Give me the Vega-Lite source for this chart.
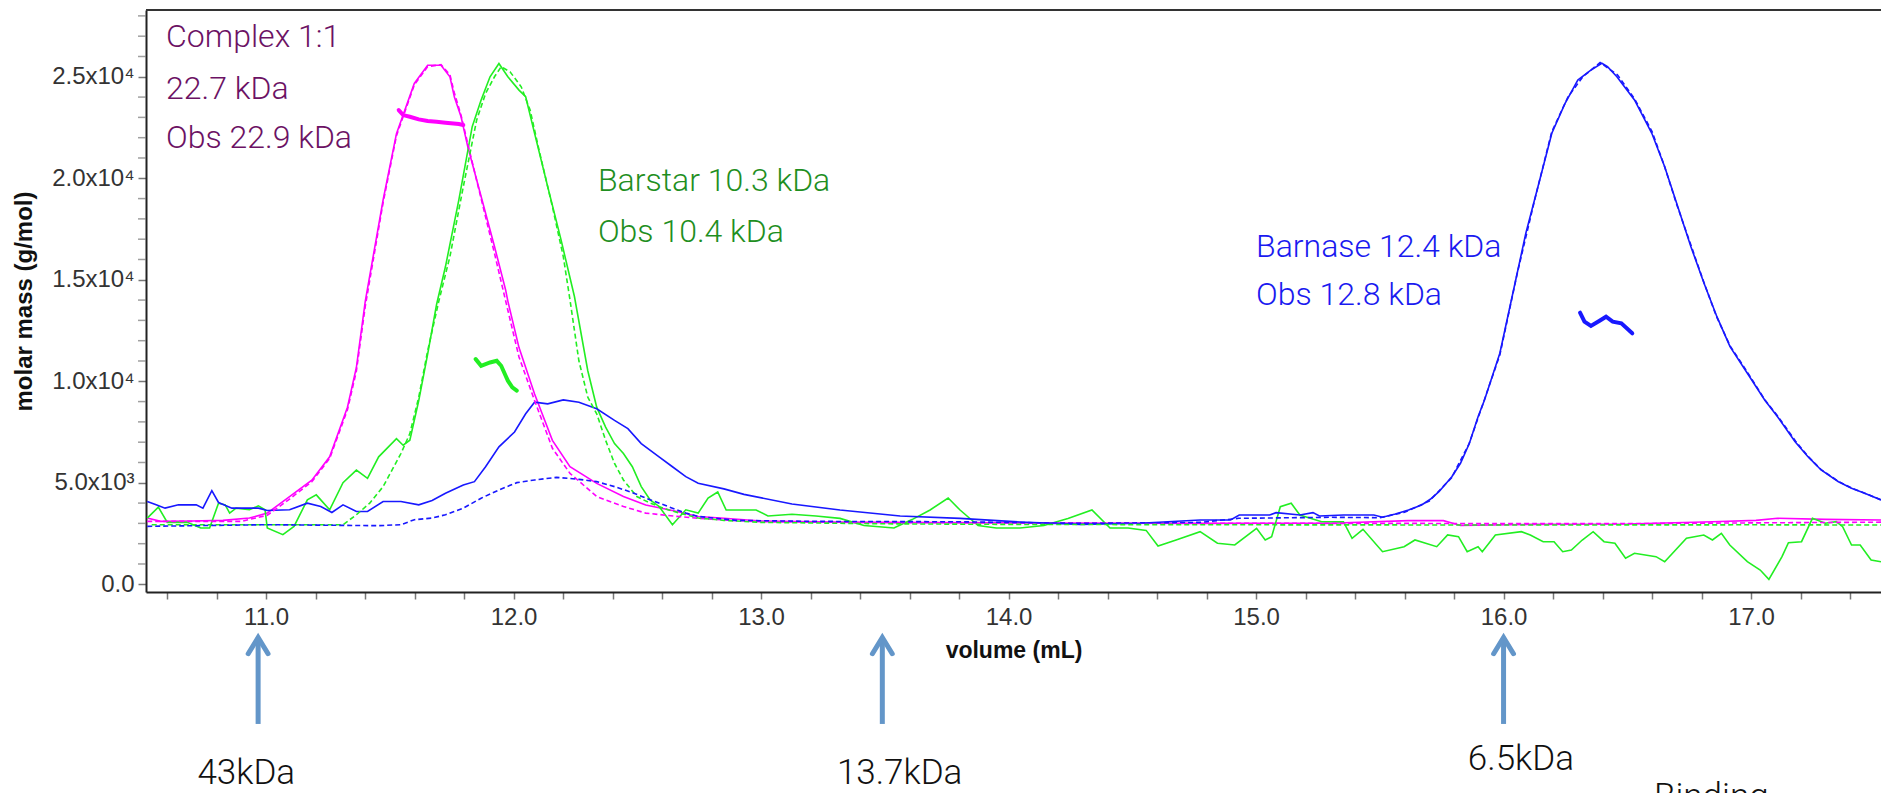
{
  "$schema": "https://vega.github.io/schema/vega-lite/v6.json",
  "width": 1735,
  "height": 582,
  "autosize": {"type": "none"},
  "padding": {"left": 146, "top": 10, "right": 0, "bottom": 201},
  "background": "white",
  "config": {"view": {"stroke": null}},
  "datasets": {
    "curves": [
      {"s":"Complex","k":"sig","v":10.52,"m":3262},{"s":"Complex","k":"sig","v":10.574,"m":3100},{"s":"Complex","k":"sig","v":10.7,"m":3120},{"s":"Complex","k":"sig","v":10.826,"m":3148},{"s":"Complex","k":"sig","v":10.933,"m":3262},{"s":"Complex","k":"sig","v":11.005,"m":3507},{"s":"Complex","k":"sig","v":11.095,"m":4320},{"s":"Complex","k":"sig","v":11.185,"m":5130},{"s":"Complex","k":"sig","v":11.257,"m":6280},{"s":"Complex","k":"sig","v":11.329,"m":8720},{"s":"Complex","k":"sig","v":11.365,"m":10680},{"s":"Complex","k":"sig","v":11.401,"m":13950},{"s":"Complex","k":"sig","v":11.473,"m":18930},{"s":"Complex","k":"sig","v":11.527,"m":22200},{"s":"Complex","k":"sig","v":11.599,"m":24670},{"s":"Complex","k":"sig","v":11.653,"m":25570},{"s":"Complex","k":"sig","v":11.707,"m":25570},{"s":"Complex","k":"sig","v":11.743,"m":25000},{"s":"Complex","k":"sig","v":11.761,"m":24000},{"s":"Complex","k":"sig","v":11.788,"m":23030},{"s":"Complex","k":"sig","v":11.815,"m":21560},{"s":"Complex","k":"sig","v":11.869,"m":19100},{"s":"Complex","k":"sig","v":11.923,"m":16640},{"s":"Complex","k":"sig","v":11.968,"m":14500},{"s":"Complex","k":"sig","v":11.977,"m":13950},{"s":"Complex","k":"sig","v":12.022,"m":11660},{"s":"Complex","k":"sig","v":12.085,"m":9370},{"s":"Complex","k":"sig","v":12.157,"m":7090},{"s":"Complex","k":"sig","v":12.228,"m":5790},{"s":"Complex","k":"sig","v":12.336,"m":4970},{"s":"Complex","k":"sig","v":12.444,"m":4320},{"s":"Complex","k":"sig","v":12.534,"m":3910},{"s":"Complex","k":"sig","v":12.66,"m":3590},{"s":"Complex","k":"sig","v":12.746,"m":3340},{"s":"Complex","k":"sig","v":12.85,"m":3250},{"s":"Complex","k":"sig","v":13.0,"m":3120},{"s":"Complex","k":"sig","v":13.3,"m":3060},{"s":"Complex","k":"sig","v":13.7,"m":3040},{"s":"Complex","k":"sig","v":14.2,"m":3020},{"s":"Complex","k":"sig","v":14.774,"m":3000},{"s":"Complex","k":"sig","v":15.3,"m":3010},{"s":"Complex","k":"sig","v":15.616,"m":3135},{"s":"Complex","k":"sig","v":15.757,"m":3135},{"s":"Complex","k":"sig","v":15.826,"m":2900},{"s":"Complex","k":"sig","v":16.108,"m":2950},{"s":"Complex","k":"sig","v":16.5,"m":2970},{"s":"Complex","k":"sig","v":16.844,"m":3084},{"s":"Complex","k":"sig","v":17.02,"m":3150},{"s":"Complex","k":"sig","v":17.107,"m":3251},{"s":"Complex","k":"sig","v":17.3,"m":3200},{"s":"Complex","k":"sig","v":17.525,"m":3167},
      {"s":"Complex","k":"fit","v":10.52,"m":3100},{"s":"Complex","k":"fit","v":10.9,"m":3100},{"s":"Complex","k":"fit","v":11.005,"m":3400},{"s":"Complex","k":"fit","v":11.095,"m":4200},{"s":"Complex","k":"fit","v":11.185,"m":5050},{"s":"Complex","k":"fit","v":11.257,"m":6200},{"s":"Complex","k":"fit","v":11.329,"m":8600},{"s":"Complex","k":"fit","v":11.365,"m":10500},{"s":"Complex","k":"fit","v":11.401,"m":13700},{"s":"Complex","k":"fit","v":11.473,"m":18800},{"s":"Complex","k":"fit","v":11.527,"m":22100},{"s":"Complex","k":"fit","v":11.599,"m":24600},{"s":"Complex","k":"fit","v":11.653,"m":25500},{"s":"Complex","k":"fit","v":11.707,"m":25600},{"s":"Complex","k":"fit","v":11.743,"m":25100},{"s":"Complex","k":"fit","v":11.761,"m":24200},{"s":"Complex","k":"fit","v":11.788,"m":23100},{"s":"Complex","k":"fit","v":11.815,"m":21700},{"s":"Complex","k":"fit","v":11.869,"m":19000},{"s":"Complex","k":"fit","v":11.923,"m":16300},{"s":"Complex","k":"fit","v":11.977,"m":13500},{"s":"Complex","k":"fit","v":12.022,"m":11200},{"s":"Complex","k":"fit","v":12.085,"m":9052},{"s":"Complex","k":"fit","v":12.157,"m":6700},{"s":"Complex","k":"fit","v":12.228,"m":5464},{"s":"Complex","k":"fit","v":12.336,"m":4322},{"s":"Complex","k":"fit","v":12.444,"m":3833},{"s":"Complex","k":"fit","v":12.534,"m":3507},{"s":"Complex","k":"fit","v":12.66,"m":3344},{"s":"Complex","k":"fit","v":12.8,"m":3200},{"s":"Complex","k":"fit","v":13.0,"m":3080},{"s":"Complex","k":"fit","v":13.5,"m":3040},{"s":"Complex","k":"fit","v":14.0,"m":3020},{"s":"Complex","k":"fit","v":15.5,"m":3000},{"s":"Complex","k":"fit","v":16.5,"m":2990},{"s":"Complex","k":"fit","v":17.525,"m":3060},
      {"s":"Complex","k":"mw","v":11.536,"m":23360},{"s":"Complex","k":"mw","v":11.554,"m":23114},{"s":"Complex","k":"mw","v":11.581,"m":23032},{"s":"Complex","k":"mw","v":11.617,"m":22900},{"s":"Complex","k":"mw","v":11.653,"m":22820},{"s":"Complex","k":"mw","v":11.689,"m":22786},{"s":"Complex","k":"mw","v":11.725,"m":22740},{"s":"Complex","k":"mw","v":11.779,"m":22671},{"s":"Complex","k":"mw","v":11.797,"m":22622},
      {"s":"Barstar","k":"sig","v":10.52,"m":3262},{"s":"Barstar","k":"sig","v":10.565,"m":3800},{"s":"Barstar","k":"sig","v":10.601,"m":3050},{"s":"Barstar","k":"sig","v":10.682,"m":3050},{"s":"Barstar","k":"sig","v":10.736,"m":2773},{"s":"Barstar","k":"sig","v":10.772,"m":2773},{"s":"Barstar","k":"sig","v":10.808,"m":3996},{"s":"Barstar","k":"sig","v":10.835,"m":3914},{"s":"Barstar","k":"sig","v":10.853,"m":3507},{"s":"Barstar","k":"sig","v":10.879,"m":3751},{"s":"Barstar","k":"sig","v":10.933,"m":3670},{"s":"Barstar","k":"sig","v":10.969,"m":3865},{"s":"Barstar","k":"sig","v":10.996,"m":3670},{"s":"Barstar","k":"sig","v":11.005,"m":2773},{"s":"Barstar","k":"sig","v":11.068,"m":2447},{"s":"Barstar","k":"sig","v":11.113,"m":2854},{"s":"Barstar","k":"sig","v":11.167,"m":4159},{"s":"Barstar","k":"sig","v":11.203,"m":4404},{"s":"Barstar","k":"sig","v":11.257,"m":3670},{"s":"Barstar","k":"sig","v":11.311,"m":5007},{"s":"Barstar","k":"sig","v":11.365,"m":5627},{"s":"Barstar","k":"sig","v":11.41,"m":5219},{"s":"Barstar","k":"sig","v":11.455,"m":6279},{"s":"Barstar","k":"sig","v":11.527,"m":7176},{"s":"Barstar","k":"sig","v":11.554,"m":6850},{"s":"Barstar","k":"sig","v":11.581,"m":7095},{"s":"Barstar","k":"sig","v":11.617,"m":9052},{"s":"Barstar","k":"sig","v":11.653,"m":11335},{"s":"Barstar","k":"sig","v":11.689,"m":13782},{"s":"Barstar","k":"sig","v":11.725,"m":15652},{"s":"Barstar","k":"sig","v":11.779,"m":18932},{"s":"Barstar","k":"sig","v":11.833,"m":22540},{"s":"Barstar","k":"sig","v":11.869,"m":23852},{"s":"Barstar","k":"sig","v":11.905,"m":25000},{"s":"Barstar","k":"sig","v":11.941,"m":25656},{"s":"Barstar","k":"sig","v":11.977,"m":25000},{"s":"Barstar","k":"sig","v":12.022,"m":24344},{"s":"Barstar","k":"sig","v":12.049,"m":24016},{"s":"Barstar","k":"sig","v":12.085,"m":22212},{"s":"Barstar","k":"sig","v":12.138,"m":19588},{"s":"Barstar","k":"sig","v":12.192,"m":16964},{"s":"Barstar","k":"sig","v":12.246,"m":14176},{"s":"Barstar","k":"sig","v":12.3,"m":10520},{"s":"Barstar","k":"sig","v":12.336,"m":8726},{"s":"Barstar","k":"sig","v":12.372,"m":7747},{"s":"Barstar","k":"sig","v":12.408,"m":6932},{"s":"Barstar","k":"sig","v":12.444,"m":6442},{"s":"Barstar","k":"sig","v":12.48,"m":5790},{"s":"Barstar","k":"sig","v":12.516,"m":4811},{"s":"Barstar","k":"sig","v":12.552,"m":4159},{"s":"Barstar","k":"sig","v":12.588,"m":3833},{"s":"Barstar","k":"sig","v":12.642,"m":2936},{"s":"Barstar","k":"sig","v":12.696,"m":3670},{"s":"Barstar","k":"sig","v":12.746,"m":3507},{"s":"Barstar","k":"sig","v":12.786,"m":4251},{"s":"Barstar","k":"sig","v":12.825,"m":4547},{"s":"Barstar","k":"sig","v":12.859,"m":3660},{"s":"Barstar","k":"sig","v":12.907,"m":3660},{"s":"Barstar","k":"sig","v":12.98,"m":3660},{"s":"Barstar","k":"sig","v":13.028,"m":3365},{"s":"Barstar","k":"sig","v":13.125,"m":3450},{"s":"Barstar","k":"sig","v":13.222,"m":3365},{"s":"Barstar","k":"sig","v":13.319,"m":3246},{"s":"Barstar","k":"sig","v":13.416,"m":2892},{"s":"Barstar","k":"sig","v":13.537,"m":2773},{"s":"Barstar","k":"sig","v":13.61,"m":3187},{"s":"Barstar","k":"sig","v":13.683,"m":3660},{"s":"Barstar","k":"sig","v":13.756,"m":4251},{"s":"Barstar","k":"sig","v":13.804,"m":3660},{"s":"Barstar","k":"sig","v":13.877,"m":2892},{"s":"Barstar","k":"sig","v":13.95,"m":2773},{"s":"Barstar","k":"sig","v":14.046,"m":2773},{"s":"Barstar","k":"sig","v":14.143,"m":2892},{"s":"Barstar","k":"sig","v":14.24,"m":3246},{"s":"Barstar","k":"sig","v":14.337,"m":3660},{"s":"Barstar","k":"sig","v":14.41,"m":2773},{"s":"Barstar","k":"sig","v":14.483,"m":2773},{"s":"Barstar","k":"sig","v":14.556,"m":2655},{"s":"Barstar","k":"sig","v":14.604,"m":1887},{"s":"Barstar","k":"sig","v":14.677,"m":2182},{"s":"Barstar","k":"sig","v":14.774,"m":2591},{"s":"Barstar","k":"sig","v":14.844,"m":2020},{"s":"Barstar","k":"sig","v":14.914,"m":1936},{"s":"Barstar","k":"sig","v":15.002,"m":2757},{"s":"Barstar","k":"sig","v":15.037,"m":2182},{"s":"Barstar","k":"sig","v":15.063,"m":2345},{"s":"Barstar","k":"sig","v":15.098,"m":3823},{"s":"Barstar","k":"sig","v":15.142,"m":3990},{"s":"Barstar","k":"sig","v":15.177,"m":3414},{"s":"Barstar","k":"sig","v":15.265,"m":3084},{"s":"Barstar","k":"sig","v":15.353,"m":3084},{"s":"Barstar","k":"sig","v":15.388,"m":2266},{"s":"Barstar","k":"sig","v":15.432,"m":2709},{"s":"Barstar","k":"sig","v":15.511,"m":1606},{"s":"Barstar","k":"sig","v":15.598,"m":1852},{"s":"Barstar","k":"sig","v":15.642,"m":2182},{"s":"Barstar","k":"sig","v":15.73,"m":1852},{"s":"Barstar","k":"sig","v":15.774,"m":2429},{"s":"Barstar","k":"sig","v":15.818,"m":2345},{"s":"Barstar","k":"sig","v":15.853,"m":1606},{"s":"Barstar","k":"sig","v":15.897,"m":1852},{"s":"Barstar","k":"sig","v":15.914,"m":1606},{"s":"Barstar","k":"sig","v":15.967,"m":2429},{"s":"Barstar","k":"sig","v":16.072,"m":2591},{"s":"Barstar","k":"sig","v":16.108,"m":2429},{"s":"Barstar","k":"sig","v":16.16,"m":2099},{"s":"Barstar","k":"sig","v":16.204,"m":2099},{"s":"Barstar","k":"sig","v":16.239,"m":1606},{"s":"Barstar","k":"sig","v":16.274,"m":1690},{"s":"Barstar","k":"sig","v":16.318,"m":2182},{"s":"Barstar","k":"sig","v":16.362,"m":2591},{"s":"Barstar","k":"sig","v":16.406,"m":2099},{"s":"Barstar","k":"sig","v":16.45,"m":2020},{"s":"Barstar","k":"sig","v":16.493,"m":1281},{"s":"Barstar","k":"sig","v":16.529,"m":1527},{"s":"Barstar","k":"sig","v":16.616,"m":1360},{"s":"Barstar","k":"sig","v":16.651,"m":1113},{"s":"Barstar","k":"sig","v":16.739,"m":2266},{"s":"Barstar","k":"sig","v":16.809,"m":2429},{"s":"Barstar","k":"sig","v":16.844,"m":2182},{"s":"Barstar","k":"sig","v":16.88,"m":2512},{"s":"Barstar","k":"sig","v":16.914,"m":1936},{"s":"Barstar","k":"sig","v":16.985,"m":1113},{"s":"Barstar","k":"sig","v":17.037,"m":704},{"s":"Barstar","k":"sig","v":17.072,"m":246},{"s":"Barstar","k":"sig","v":17.125,"m":1360},{"s":"Barstar","k":"sig","v":17.151,"m":2049},{"s":"Barstar","k":"sig","v":17.204,"m":2099},{"s":"Barstar","k":"sig","v":17.248,"m":3251},{"s":"Barstar","k":"sig","v":17.3,"m":3005},{"s":"Barstar","k":"sig","v":17.344,"m":3084},{"s":"Barstar","k":"sig","v":17.37,"m":2837},{"s":"Barstar","k":"sig","v":17.406,"m":1936},{"s":"Barstar","k":"sig","v":17.441,"m":1936},{"s":"Barstar","k":"sig","v":17.485,"m":1197},{"s":"Barstar","k":"sig","v":17.525,"m":1113},
      {"s":"Barstar","k":"fit","v":10.538,"m":2936},{"s":"Barstar","k":"fit","v":11.311,"m":2936},{"s":"Barstar","k":"fit","v":11.365,"m":3425},{"s":"Barstar","k":"fit","v":11.419,"m":3996},{"s":"Barstar","k":"fit","v":11.473,"m":4811},{"s":"Barstar","k":"fit","v":11.545,"m":6442},{"s":"Barstar","k":"fit","v":11.581,"m":7421},{"s":"Barstar","k":"fit","v":11.617,"m":9215},{"s":"Barstar","k":"fit","v":11.653,"m":11499},{"s":"Barstar","k":"fit","v":11.698,"m":13945},{"s":"Barstar","k":"fit","v":11.743,"m":16144},{"s":"Barstar","k":"fit","v":11.797,"m":19588},{"s":"Barstar","k":"fit","v":11.851,"m":22868},{"s":"Barstar","k":"fit","v":11.887,"m":24180},{"s":"Barstar","k":"fit","v":11.923,"m":25000},{"s":"Barstar","k":"fit","v":11.95,"m":25492},{"s":"Barstar","k":"fit","v":11.986,"m":25246},{"s":"Barstar","k":"fit","v":12.031,"m":24508},{"s":"Barstar","k":"fit","v":12.067,"m":23360},{"s":"Barstar","k":"fit","v":12.103,"m":21392},{"s":"Barstar","k":"fit","v":12.157,"m":18604},{"s":"Barstar","k":"fit","v":12.201,"m":16144},{"s":"Barstar","k":"fit","v":12.228,"m":14012},{"s":"Barstar","k":"fit","v":12.264,"m":11009},{"s":"Barstar","k":"fit","v":12.3,"m":9215},{"s":"Barstar","k":"fit","v":12.336,"m":8400},{"s":"Barstar","k":"fit","v":12.372,"m":7095},{"s":"Barstar","k":"fit","v":12.408,"m":5953},{"s":"Barstar","k":"fit","v":12.444,"m":5138},{"s":"Barstar","k":"fit","v":12.498,"m":4322},{"s":"Barstar","k":"fit","v":12.552,"m":3996},{"s":"Barstar","k":"fit","v":12.624,"m":3670},{"s":"Barstar","k":"fit","v":12.696,"m":3425},{"s":"Barstar","k":"fit","v":12.746,"m":3262},{"s":"Barstar","k":"fit","v":12.85,"m":3150},{"s":"Barstar","k":"fit","v":13.0,"m":3050},{"s":"Barstar","k":"fit","v":13.5,"m":2980},{"s":"Barstar","k":"fit","v":14.0,"m":2950},{"s":"Barstar","k":"fit","v":15.0,"m":2930},{"s":"Barstar","k":"fit","v":16.0,"m":2920},{"s":"Barstar","k":"fit","v":17.0,"m":2930},{"s":"Barstar","k":"fit","v":17.525,"m":2920},
      {"s":"Barstar","k":"mw","v":11.847,"m":11091},{"s":"Barstar","k":"mw","v":11.869,"m":10765},{"s":"Barstar","k":"mw","v":11.905,"m":10928},{"s":"Barstar","k":"mw","v":11.932,"m":11009},{"s":"Barstar","k":"mw","v":11.95,"m":10765},{"s":"Barstar","k":"mw","v":11.968,"m":10275},{"s":"Barstar","k":"mw","v":11.977,"m":10031},{"s":"Barstar","k":"mw","v":11.995,"m":9705},{"s":"Barstar","k":"mw","v":12.013,"m":9541},
      {"s":"Barnase","k":"sig","v":10.52,"m":4078},{"s":"Barnase","k":"sig","v":10.556,"m":3914},{"s":"Barnase","k":"sig","v":10.592,"m":3751},{"s":"Barnase","k":"sig","v":10.646,"m":3914},{"s":"Barnase","k":"sig","v":10.718,"m":3914},{"s":"Barnase","k":"sig","v":10.745,"m":3751},{"s":"Barnase","k":"sig","v":10.781,"m":4616},{"s":"Barnase","k":"sig","v":10.808,"m":4029},{"s":"Barnase","k":"sig","v":10.862,"m":3751},{"s":"Barnase","k":"sig","v":10.969,"m":3751},{"s":"Barnase","k":"sig","v":11.005,"m":3637},{"s":"Barnase","k":"sig","v":11.095,"m":3670},{"s":"Barnase","k":"sig","v":11.167,"m":3996},{"s":"Barnase","k":"sig","v":11.221,"m":3833},{"s":"Barnase","k":"sig","v":11.266,"m":3539},{"s":"Barnase","k":"sig","v":11.311,"m":3914},{"s":"Barnase","k":"sig","v":11.365,"m":3588},{"s":"Barnase","k":"sig","v":11.41,"m":3588},{"s":"Barnase","k":"sig","v":11.473,"m":4078},{"s":"Barnase","k":"sig","v":11.545,"m":4078},{"s":"Barnase","k":"sig","v":11.617,"m":3914},{"s":"Barnase","k":"sig","v":11.671,"m":4126},{"s":"Barnase","k":"sig","v":11.725,"m":4485},{"s":"Barnase","k":"sig","v":11.797,"m":4893},{"s":"Barnase","k":"sig","v":11.842,"m":5056},{"s":"Barnase","k":"sig","v":11.887,"m":5790},{"s":"Barnase","k":"sig","v":11.941,"m":6769},{"s":"Barnase","k":"sig","v":12.004,"m":7503},{"s":"Barnase","k":"sig","v":12.049,"m":8400},{"s":"Barnase","k":"sig","v":12.085,"m":8971},{"s":"Barnase","k":"sig","v":12.138,"m":8889},{"s":"Barnase","k":"sig","v":12.201,"m":9085},{"s":"Barnase","k":"sig","v":12.264,"m":8971},{"s":"Barnase","k":"sig","v":12.336,"m":8644},{"s":"Barnase","k":"sig","v":12.408,"m":8073},{"s":"Barnase","k":"sig","v":12.462,"m":7666},{"s":"Barnase","k":"sig","v":12.516,"m":6932},{"s":"Barnase","k":"sig","v":12.588,"m":6279},{"s":"Barnase","k":"sig","v":12.642,"m":5790},{"s":"Barnase","k":"sig","v":12.696,"m":5301},{"s":"Barnase","k":"sig","v":12.746,"m":4975},{"s":"Barnase","k":"sig","v":12.85,"m":4700},{"s":"Barnase","k":"sig","v":12.931,"m":4429},{"s":"Barnase","k":"sig","v":13.125,"m":3956},{"s":"Barnase","k":"sig","v":13.319,"m":3660},{"s":"Barnase","k":"sig","v":13.562,"m":3365},{"s":"Barnase","k":"sig","v":13.804,"m":3246},{"s":"Barnase","k":"sig","v":14.046,"m":3069},{"s":"Barnase","k":"sig","v":14.289,"m":2951},{"s":"Barnase","k":"sig","v":14.531,"m":3010},{"s":"Barnase","k":"sig","v":14.774,"m":3167},{"s":"Barnase","k":"sig","v":14.897,"m":3167},{"s":"Barnase","k":"sig","v":14.932,"m":3414},{"s":"Barnase","k":"sig","v":15.055,"m":3414},{"s":"Barnase","k":"sig","v":15.081,"m":3529},{"s":"Barnase","k":"sig","v":15.177,"m":3414},{"s":"Barnase","k":"sig","v":15.23,"m":3529},{"s":"Barnase","k":"sig","v":15.256,"m":3365},{"s":"Barnase","k":"sig","v":15.353,"m":3414},{"s":"Barnase","k":"sig","v":15.476,"m":3414},{"s":"Barnase","k":"sig","v":15.511,"m":3300},{"s":"Barnase","k":"sig","v":15.563,"m":3463},{"s":"Barnase","k":"sig","v":15.616,"m":3660},{"s":"Barnase","k":"sig","v":15.669,"m":3906},{"s":"Barnase","k":"sig","v":15.704,"m":4187},{"s":"Barnase","k":"sig","v":15.739,"m":4562},{"s":"Barnase","k":"sig","v":15.791,"m":5300},{"s":"Barnase","k":"sig","v":15.826,"m":5960},{"s":"Barnase","k":"sig","v":15.862,"m":6946},{"s":"Barnase","k":"sig","v":15.897,"m":8256},{"s":"Barnase","k":"sig","v":15.923,"m":9079},{"s":"Barnase","k":"sig","v":15.985,"m":11379},{"s":"Barnase","k":"sig","v":16.02,"m":13350},{"s":"Barnase","k":"sig","v":16.055,"m":15320},{"s":"Barnase","k":"sig","v":16.09,"m":17291},{"s":"Barnase","k":"sig","v":16.125,"m":18931},{"s":"Barnase","k":"sig","v":16.16,"m":20572},{"s":"Barnase","k":"sig","v":16.195,"m":22217},{"s":"Barnase","k":"sig","v":16.248,"m":23680},{"s":"Barnase","k":"sig","v":16.3,"m":24842},{"s":"Barnase","k":"sig","v":16.35,"m":25300},{"s":"Barnase","k":"sig","v":16.397,"m":25665},{"s":"Barnase","k":"sig","v":16.42,"m":25500},{"s":"Barnase","k":"sig","v":16.458,"m":25005},{"s":"Barnase","k":"sig","v":16.529,"m":23857},{"s":"Barnase","k":"sig","v":16.599,"m":22217},{"s":"Barnase","k":"sig","v":16.651,"m":20572},{"s":"Barnase","k":"sig","v":16.704,"m":18601},{"s":"Barnase","k":"sig","v":16.757,"m":16630},{"s":"Barnase","k":"sig","v":16.81,"m":14828},{"s":"Barnase","k":"sig","v":16.862,"m":13182},{"s":"Barnase","k":"sig","v":16.915,"m":11704},{"s":"Barnase","k":"sig","v":16.985,"m":10394},{"s":"Barnase","k":"sig","v":17.055,"m":9079},{"s":"Barnase","k":"sig","v":17.107,"m":8256},{"s":"Barnase","k":"sig","v":17.178,"m":7025},{"s":"Barnase","k":"sig","v":17.23,"m":6286},{"s":"Barnase","k":"sig","v":17.283,"m":5631},{"s":"Barnase","k":"sig","v":17.353,"m":5054},{"s":"Barnase","k":"sig","v":17.406,"m":4729},{"s":"Barnase","k":"sig","v":17.459,"m":4483},{"s":"Barnase","k":"sig","v":17.525,"m":4153},
      {"s":"Barnase","k":"fit","v":10.52,"m":2854},{"s":"Barnase","k":"fit","v":11.005,"m":2936},{"s":"Barnase","k":"fit","v":11.455,"m":2887},{"s":"Barnase","k":"fit","v":11.545,"m":2936},{"s":"Barnase","k":"fit","v":11.599,"m":3180},{"s":"Barnase","k":"fit","v":11.671,"m":3262},{"s":"Barnase","k":"fit","v":11.725,"m":3425},{"s":"Barnase","k":"fit","v":11.797,"m":3751},{"s":"Barnase","k":"fit","v":11.869,"m":4241},{"s":"Barnase","k":"fit","v":11.941,"m":4648},{"s":"Barnase","k":"fit","v":12.013,"m":5007},{"s":"Barnase","k":"fit","v":12.085,"m":5138},{"s":"Barnase","k":"fit","v":12.174,"m":5268},{"s":"Barnase","k":"fit","v":12.264,"m":5170},{"s":"Barnase","k":"fit","v":12.336,"m":5056},{"s":"Barnase","k":"fit","v":12.408,"m":4811},{"s":"Barnase","k":"fit","v":12.48,"m":4518},{"s":"Barnase","k":"fit","v":12.552,"m":4159},{"s":"Barnase","k":"fit","v":12.624,"m":3833},{"s":"Barnase","k":"fit","v":12.696,"m":3507},{"s":"Barnase","k":"fit","v":12.746,"m":3344},{"s":"Barnase","k":"fit","v":12.9,"m":3150},{"s":"Barnase","k":"fit","v":13.2,"m":3100},{"s":"Barnase","k":"fit","v":13.8,"m":3080},{"s":"Barnase","k":"fit","v":14.3,"m":3000},{"s":"Barnase","k":"fit","v":14.774,"m":3050},{"s":"Barnase","k":"fit","v":14.93,"m":3250},{"s":"Barnase","k":"fit","v":15.3,"m":3300},{"s":"Barnase","k":"fit","v":15.5,"m":3280},{"s":"Barnase","k":"fit","v":15.6,"m":3550},{"s":"Barnase","k":"fit","v":15.7,"m":4100},{"s":"Barnase","k":"fit","v":15.79,"m":5250},{"s":"Barnase","k":"fit","v":15.86,"m":6900},{"s":"Barnase","k":"fit","v":15.92,"m":9000},{"s":"Barnase","k":"fit","v":15.985,"m":11300},{"s":"Barnase","k":"fit","v":16.055,"m":15300},{"s":"Barnase","k":"fit","v":16.125,"m":18900},{"s":"Barnase","k":"fit","v":16.195,"m":22300},{"s":"Barnase","k":"fit","v":16.26,"m":24000},{"s":"Barnase","k":"fit","v":16.32,"m":25000},{"s":"Barnase","k":"fit","v":16.39,"m":25700},{"s":"Barnase","k":"fit","v":16.46,"m":25100},{"s":"Barnase","k":"fit","v":16.53,"m":23900},{"s":"Barnase","k":"fit","v":16.6,"m":22300},{"s":"Barnase","k":"fit","v":16.65,"m":20600},{"s":"Barnase","k":"fit","v":16.7,"m":18700},{"s":"Barnase","k":"fit","v":16.76,"m":16600},{"s":"Barnase","k":"fit","v":16.81,"m":14850},{"s":"Barnase","k":"fit","v":16.86,"m":13200},{"s":"Barnase","k":"fit","v":16.915,"m":11750},{"s":"Barnase","k":"fit","v":16.985,"m":10450},{"s":"Barnase","k":"fit","v":17.055,"m":9100},{"s":"Barnase","k":"fit","v":17.11,"m":8250},{"s":"Barnase","k":"fit","v":17.18,"m":7050},{"s":"Barnase","k":"fit","v":17.23,"m":6300},{"s":"Barnase","k":"fit","v":17.283,"m":5650},{"s":"Barnase","k":"fit","v":17.353,"m":5070},{"s":"Barnase","k":"fit","v":17.406,"m":4740},{"s":"Barnase","k":"fit","v":17.459,"m":4490},{"s":"Barnase","k":"fit","v":17.525,"m":4160},
      {"s":"Barnase","k":"mw","v":16.309,"m":13379},{"s":"Barnase","k":"mw","v":16.327,"m":12936},{"s":"Barnase","k":"mw","v":16.353,"m":12724},{"s":"Barnase","k":"mw","v":16.388,"m":12985},{"s":"Barnase","k":"mw","v":16.414,"m":13182},{"s":"Barnase","k":"mw","v":16.441,"m":12936},{"s":"Barnase","k":"mw","v":16.476,"m":12857},{"s":"Barnase","k":"mw","v":16.52,"m":12365}
    ],
    "labels": [
      {"g":"complex","t":"Complex 1:1","v":10.596,"m":26480},
      {"g":"complex","t":"22.7 kDa","v":10.596,"m":23900},
      {"g":"complex","t":"Obs 22.9 kDa","v":10.596,"m":21490},
      {"g":"barstar","t":"Barstar 10.3 kDa","v":12.341,"m":19390},
      {"g":"barstar","t":"Obs 10.4 kDa","v":12.341,"m":16880},
      {"g":"barnase","t":"Barnase 12.4 kDa","v":15.0,"m":16140},
      {"g":"barnase","t":"Obs 12.8 kDa","v":15.0,"m":13760},
      {"g":"marker","t":"43kDa","v":10.92,"m":-9818},
      {"g":"marker","t":"13.7kDa","v":13.56,"m":-9818},
      {"g":"marker","t":"6.5kDa","v":16.07,"m":-9148},
      {"g":"note","t":"Binding","v":16.608,"m":-11020}
    ],
    "arrows": [{"v":10.968},{"v":13.49},{"v":16.0}],
    "minorY": [{"m":1000},{"m":2000},{"m":3000},{"m":4000},{"m":6000},{"m":7000},{"m":8000},{"m":9000},{"m":11000},{"m":12000},{"m":13000},{"m":14000},{"m":16000},{"m":17000},{"m":18000},{"m":19000},{"m":21000},{"m":22000},{"m":23000},{"m":24000},{"m":26000},{"m":27000},{"m":28000}]
  },
  "layer": [
    {"data": {"values": [{}]}, "mark": {"type": "rule", "color": "#333", "strokeWidth": 2},
      "encoding": {"y": {"datum": 28290, "type": "quantitative", "scale": {"domain": [-380, 28290], "nice": false, "zero": false}}}},
    {"data": {"name": "curves"}, "transform": [{"filter": "datum.k == 'sig'"}],
      "mark": {"type": "line", "strokeWidth": 1.6},
      "encoding": {
        "x": {"field": "v", "type": "quantitative", "scale": {"domain": [10.515, 17.525], "nice": false, "zero": false},
          "axis": {"values": [10.6,10.8,11,11.2,11.4,11.6,11.8,12,12.2,12.4,12.6,12.8,13,13.2,13.4,13.6,13.8,14,14.2,14.4,14.6,14.8,15,15.2,15.4,15.6,15.8,16,16.2,16.4,16.6,16.8,17,17.2,17.4],
            "labelExpr": "abs(datum.value - round(datum.value)) < 0.001 ? format(datum.value, '.1f') : ''",
            "labelFont": "Liberation Sans", "labelFontSize": 24,
            "labelColor": "#333", "labelPadding": 6, "labelOverlap": false, "labelBound": false,
            "tickColor": "#777", "tickSize": 7, "tickWidth": 1.5, "domainColor": "#222", "domainWidth": 2, "grid": false,
            "title": "volume (mL)", "titleFont": "Liberation Sans", "titleFontWeight": "bold", "titleFontSize": 23, "titleColor": "#111", "titleBaseline": "alphabetic", "titleY": 65}},
        "y": {"field": "m", "type": "quantitative", "scale": {"domain": [-380, 28290], "nice": false, "zero": false},
          "axis": {"values": [0,5000,10000,15000,20000,25000],
            "labelExpr": "datum.value == 0 ? '0.0' : (datum.value < 10000 ? format(datum.value/1000, '.1f') + 'x10³' : format(datum.value/10000, '.1f') + 'x10⁴')",
            "labelFont": "Liberation Sans", "labelFontSize": 24,
            "labelColor": "#333", "labelPadding": 4, "labelOverlap": false, "labelBound": false,
            "tickColor": "#777", "tickSize": 8, "tickWidth": 1.5, "domainColor": "#222", "domainWidth": 2, "grid": false,
            "title": "molar mass (g/mol)", "titleFont": "Liberation Sans", "titleFontWeight": "bold", "titleFontSize": 24, "titleColor": "#111", "titleBaseline": "alphabetic", "titleX": -115}},
        "color": {"field": "s", "type": "nominal", "scale": {"domain": ["Complex","Barstar","Barnase"], "range": ["#ff00ff","#22ee22","#1818ff"]}, "legend": null},
        "detail": {"field": "s"}}},
    {"data": {"name": "minorY"},
      "mark": {"type": "tick", "orient": "horizontal", "size": 8, "thickness": 1.5, "color": "#777", "xOffset": -4},
      "encoding": {"x": {"datum": 10.515, "type": "quantitative"}, "y": {"field": "m", "type": "quantitative"}}},
    {"data": {"name": "curves"}, "transform": [{"filter": "datum.k == 'fit'"}],
      "mark": {"type": "line", "strokeWidth": 1.6, "strokeDash": [5, 3]},
      "encoding": {"x": {"field": "v", "type": "quantitative"}, "y": {"field": "m", "type": "quantitative"},
        "color": {"field": "s", "type": "nominal", "legend": null}, "detail": {"field": "s"}}},
    {"data": {"name": "curves"}, "transform": [{"filter": "datum.k == 'mw'"}],
      "mark": {"type": "line", "strokeWidth": 4, "strokeCap": "round"},
      "encoding": {"x": {"field": "v", "type": "quantitative"}, "y": {"field": "m", "type": "quantitative"},
        "color": {"field": "s", "type": "nominal", "legend": null}, "detail": {"field": "s"}}},
    {"data": {"name": "labels"}, "transform": [{"filter": "datum.g == 'complex'"}],
      "mark": {"type": "text", "align": "left", "baseline": "alphabetic", "font": "Roboto", "fontWeight": 300, "fontSize": 32, "color": "#6c1264"},
      "encoding": {"x": {"field": "v", "type": "quantitative"}, "y": {"field": "m", "type": "quantitative"}, "text": {"field": "t"}}},
    {"data": {"name": "labels"}, "transform": [{"filter": "datum.g == 'barstar'"}],
      "mark": {"type": "text", "align": "left", "baseline": "alphabetic", "font": "Roboto", "fontWeight": 300, "fontSize": 32, "color": "#1f8f1f"},
      "encoding": {"x": {"field": "v", "type": "quantitative"}, "y": {"field": "m", "type": "quantitative"}, "text": {"field": "t"}}},
    {"data": {"name": "labels"}, "transform": [{"filter": "datum.g == 'barnase'"}],
      "mark": {"type": "text", "align": "left", "baseline": "alphabetic", "font": "Roboto", "fontWeight": 300, "fontSize": 32, "color": "#1a1af0"},
      "encoding": {"x": {"field": "v", "type": "quantitative"}, "y": {"field": "m", "type": "quantitative"}, "text": {"field": "t"}}},
    {"data": {"name": "labels"}, "transform": [{"filter": "datum.g == 'marker'"}],
      "mark": {"type": "text", "align": "center", "baseline": "alphabetic", "font": "Roboto", "fontWeight": 300, "fontSize": 35, "color": "#111"},
      "encoding": {"x": {"field": "v", "type": "quantitative"}, "y": {"field": "m", "type": "quantitative"}, "text": {"field": "t"}}},
    {"data": {"name": "labels"}, "transform": [{"filter": "datum.g == 'note'"}],
      "mark": {"type": "text", "align": "left", "baseline": "alphabetic", "font": "Roboto", "fontWeight": 300, "fontSize": 35, "color": "#111"},
      "encoding": {"x": {"field": "v", "type": "quantitative"}, "y": {"field": "m", "type": "quantitative"}, "text": {"field": "t"}}},
    {"data": {"name": "arrows"},
      "mark": {"type": "rule", "color": "#6396c9", "strokeWidth": 5, "strokeCap": "butt"},
      "encoding": {"x": {"field": "v", "type": "quantitative"}, "y": {"datum": -2800, "type": "quantitative"}, "y2": {"datum": -6880}}},
    {"data": {"name": "arrows"},
      "mark": {"type": "point", "filled": false, "color": "#6396c9", "strokeWidth": 5, "opacity": 1, "shape": "M-0.55,0.9L0,0L0.55,0.9", "size": 1300, "strokeJoin": "miter", "strokeCap": "round"},
      "encoding": {"x": {"field": "v", "type": "quantitative"}, "y": {"datum": -2620, "type": "quantitative"}}}
  ]
}
